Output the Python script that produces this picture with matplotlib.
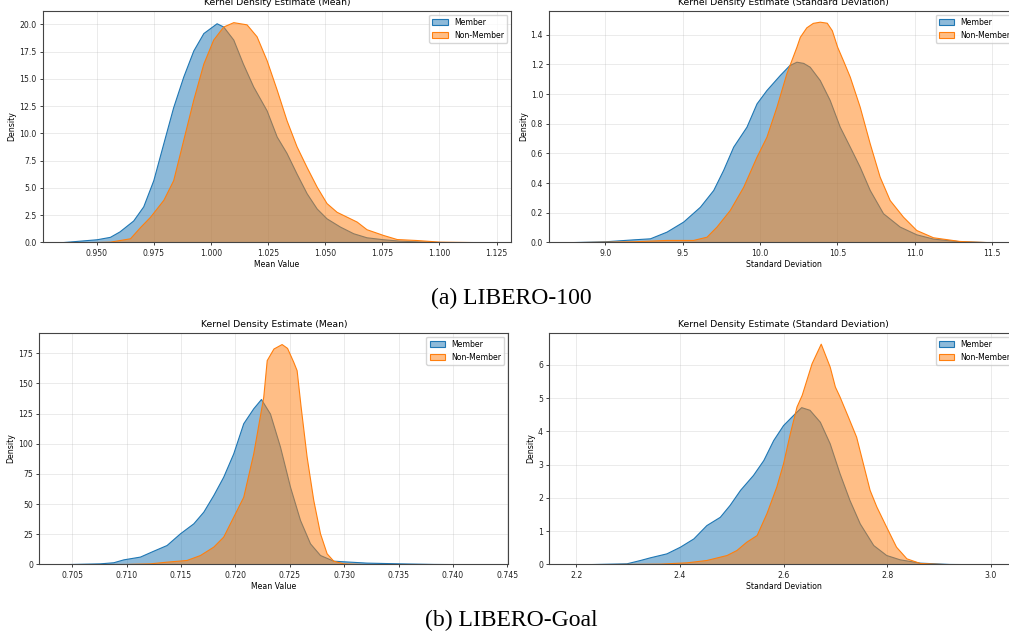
import numpy as np
import matplotlib
matplotlib.use("Agg")
import matplotlib.pyplot as plt

plt.rcParams['font.family'] = 'DejaVu Sans'
plt.rcParams['font.size'] = 5.6

# ---- LIBERO-100, mean ----
l100_mean_member_x = [0.934, 0.950, 0.9558, 0.960, 0.966, 0.9704, 0.9748, 0.9792, 0.9835, 0.9879,
                      0.9923, 0.9967, 1.0025, 1.0054, 1.0098, 1.014, 1.0185, 1.0244, 1.0288, 1.0331,
                      1.0375, 1.0419, 1.0463, 1.0506, 1.0565, 1.0623, 1.0681, 1.0754, 1.0827, 1.0973, 1.1235]
l100_mean_member_y = [0.0, 0.28, 0.5, 1.0, 2.0, 3.3, 5.7, 9.1, 12.4, 15.2,
                      17.6, 19.2, 20.1, 19.8, 18.6, 16.4, 14.3, 12.1, 9.7, 8.2,
                      6.3, 4.5, 3.1, 2.2, 1.44, 0.83, 0.46, 0.28, 0.15, 0.03, 0.0]
l100_mean_nonmember_x = [0.944, 0.9558, 0.9646, 0.969, 0.9734, 0.9792, 0.9835, 0.9879, 0.9923, 0.9967,
                         1.001, 1.0054, 1.0098, 1.0156, 1.020, 1.0244, 1.0288, 1.0331, 1.0375, 1.0419,
                         1.0463, 1.0506, 1.055, 1.0594, 1.0638, 1.0681, 1.0754, 1.0813, 1.090, 1.1002, 1.1235]
l100_mean_nonmember_y = [0.0, 0.06, 0.37, 1.4, 2.35, 3.9, 5.7, 9.4, 13.1, 16.4,
                         18.6, 19.8, 20.2, 20.0, 18.9, 16.7, 14.0, 11.2, 8.8, 6.9,
                         5.1, 3.6, 2.8, 2.35, 1.9, 1.2, 0.67, 0.3, 0.21, 0.06, 0.0]

# ---- LIBERO-100, std ----
l100_std_member_x = [8.729, 9.0, 9.181, 9.289, 9.396, 9.504, 9.612, 9.698, 9.762, 9.827,
                     9.913, 9.978, 10.042, 10.128, 10.19, 10.236, 10.28, 10.322, 10.387, 10.451, 10.516,
                     10.581, 10.645, 10.71, 10.796, 10.904, 11.011, 11.119, 11.291, 11.506]
l100_std_member_y = [0.0, 0.007, 0.02, 0.027, 0.072, 0.14, 0.24, 0.353, 0.488, 0.645,
                     0.78, 0.937, 1.027, 1.128, 1.195, 1.218, 1.21, 1.184, 1.094, 0.96, 0.78,
                     0.645, 0.51, 0.353, 0.196, 0.106, 0.054, 0.025, 0.007, 0.0]
l100_std_nonmember_x = [8.729, 9.181, 9.396, 9.568, 9.655, 9.719, 9.805, 9.892, 9.978, 10.042,
                        10.107, 10.171, 10.236, 10.258, 10.30, 10.342, 10.387, 10.432, 10.465, 10.499,
                        10.54, 10.581, 10.645, 10.71, 10.774, 10.839, 10.925, 11.011, 11.119, 11.291, 11.506]
l100_std_nonmember_y = [0.0, 0.007, 0.016, 0.016, 0.038, 0.106, 0.218, 0.375, 0.578, 0.712,
                        0.915, 1.14, 1.319, 1.386, 1.45, 1.48, 1.488, 1.481, 1.43, 1.32,
                        1.22, 1.117, 0.915, 0.667, 0.443, 0.285, 0.173, 0.083, 0.034, 0.009, 0.0]

# ---- LIBERO-Goal, mean ----
goal_mean_member_x = [0.70356, 0.70754, 0.70877, 0.70969, 0.71122, 0.71245, 0.71367, 0.7149, 0.71613, 0.71705,
                      0.71797, 0.71888, 0.7198, 0.72072, 0.72164, 0.72235, 0.72318, 0.7241, 0.72502, 0.72594,
                      0.72686, 0.72778, 0.729, 0.73053, 0.73207, 0.73513, 0.7382, 0.7431]
goal_mean_member_y = [0.0, 0.8, 1.7, 4.1, 6.4, 11.3, 16.0, 25.7, 34.0, 43.7,
                      57.5, 72.7, 92.0, 117.0, 129.4, 137.1, 125.0, 97.6, 64.4, 36.8,
                      17.4, 7.7, 3.0, 2.2, 1.4, 0.8, 0.3, 0.0]
goal_mean_nonmember_x = [0.70448, 0.710, 0.71214, 0.71367, 0.71551, 0.71674, 0.71797, 0.71888, 0.7198, 0.72072,
                         0.72164, 0.72256, 0.72288, 0.7235, 0.72425, 0.72475, 0.72532, 0.72563, 0.726, 0.72655,
                         0.72716, 0.72778, 0.72839, 0.729, 0.72992, 0.73207, 0.74126]
goal_mean_nonmember_y = [0.0, 0.3, 0.8, 2.2, 3.6, 7.7, 14.7, 23.0, 39.5, 56.0,
                         92.0, 139.0, 169.4, 179.0, 182.7, 179.5, 168.0, 161.0, 130.7, 89.3,
                         53.4, 25.7, 9.1, 3.0, 0.8, 0.1, 0.0]

# ---- LIBERO-Goal, std ----
goal_std_member_x = [2.207, 2.297, 2.323, 2.342, 2.374, 2.40, 2.426, 2.451, 2.477, 2.496,
                     2.516, 2.541, 2.561, 2.58, 2.599, 2.618, 2.634, 2.65, 2.67, 2.689,
                     2.708, 2.727, 2.747, 2.773, 2.798, 2.824, 2.863, 2.92, 3.01]
goal_std_member_y = [0.0, 0.03, 0.13, 0.21, 0.33, 0.53, 0.78, 1.18, 1.43, 1.79,
                     2.24, 2.69, 3.14, 3.74, 4.19, 4.49, 4.73, 4.65, 4.29, 3.64,
                     2.74, 1.94, 1.23, 0.58, 0.28, 0.15, 0.05, 0.01, 0.0]
goal_std_nonmember_x = [2.213, 2.361, 2.413, 2.451, 2.49, 2.509, 2.528, 2.548, 2.567, 2.586,
                        2.599, 2.612, 2.625, 2.635, 2.654, 2.6717, 2.689, 2.699, 2.708, 2.724,
                        2.74, 2.753, 2.766, 2.779, 2.798, 2.817, 2.837, 2.863, 2.92]
goal_std_nonmember_y = [0.0, 0.02, 0.06, 0.13, 0.28, 0.43, 0.68, 0.88, 1.54, 2.34,
                        3.04, 3.94, 4.75, 5.1, 6.05, 6.64, 5.95, 5.35, 5.05, 4.45,
                        3.84, 3.04, 2.24, 1.74, 1.13, 0.53, 0.18, 0.04, 0.0]

panels = [
    # (axes rect, member, nonmember, xlim, ylim, xticks, xfmt, title, xlabel)
    ([0.0423, 0.6202, 0.4641, 0.363], (l100_mean_member_x, l100_mean_member_y),
     (l100_mean_nonmember_x, l100_mean_nonmember_y), (0.9264, 1.1313), (0, 21.25),
     np.arange(0.950, 1.1251, 0.025), '{:.3f}', 'Kernel Density Estimate (Mean)', 'Mean Value'),
    ([0.5444, 0.6202, 0.4641, 0.363], (l100_std_member_x, l100_std_member_y),
     (l100_std_nonmember_x, l100_std_nonmember_y), (8.638, 11.666), (0, 1.562),
     np.arange(9.0, 11.51, 0.5), '{:.1f}', 'Kernel Density Estimate (Standard Deviation)', 'Standard Deviation'),
    ([0.0390, 0.1155, 0.4648, 0.363], (goal_mean_member_x, goal_mean_member_y),
     (goal_mean_nonmember_x, goal_mean_nonmember_y), (0.70197, 0.7451), (0, 192.1),
     np.arange(0.705, 0.7451, 0.005), '{:.3f}', 'Kernel Density Estimate (Mean)', 'Mean Value'),
    ([0.5444, 0.1155, 0.4641, 0.363], (goal_std_member_x, goal_std_member_y),
     (goal_std_nonmember_x, goal_std_nonmember_y), (2.148, 3.0515), (0, 6.97),
     np.arange(2.2, 3.01, 0.2), '{:.1f}', 'Kernel Density Estimate (Standard Deviation)', 'Standard Deviation'),
]

fig = plt.figure(figsize=(10.09, 6.38), dpi=100)

for rect, mem, non, xlim, ylim, xticks, xfmt, title, xlabel in panels:
    ax = fig.add_axes(rect)
    ax.fill_between(mem[0], mem[1], facecolor=(0.122, 0.467, 0.706, 0.5),
                    edgecolor='#1f77b4', linewidth=0.8, label='Member')
    ax.fill_between(non[0], non[1], facecolor=(1.0, 0.498, 0.055, 0.5),
                    edgecolor='#ff7f0e', linewidth=0.8, label='Non-Member')
    ax.set_xlim(*xlim)
    ax.set_ylim(*ylim)
    ax.set_xticks(xticks)
    ax.set_xticklabels([xfmt.format(t) for t in xticks])
    ax.grid(True, alpha=0.25, linewidth=0.7)
    ax.set_axisbelow(True)
    ax.set_title(title, fontsize=6.7, pad=4)
    ax.set_xlabel(xlabel, labelpad=2)
    ax.set_ylabel('Density', labelpad=2)
    ax.tick_params(length=2.5, width=0.6, pad=2, labelsize=5.6, colors='#222222')
    for s in ax.spines.values():
        s.set_linewidth(0.8)
        s.set_color('#444444')
    ax.legend(loc='upper right', fontsize=5.6, framealpha=0.8)

fig.text(0.507, 1 - 298 / 638, '(a) LIBERO-100', family='Liberation Serif',
         fontsize=17, ha='center', va='center')
fig.text(0.507, 1 - 620 / 638, '(b) LIBERO-Goal', family='Liberation Serif',
         fontsize=17, ha='center', va='center')

fig.savefig('out.png', dpi=100)
